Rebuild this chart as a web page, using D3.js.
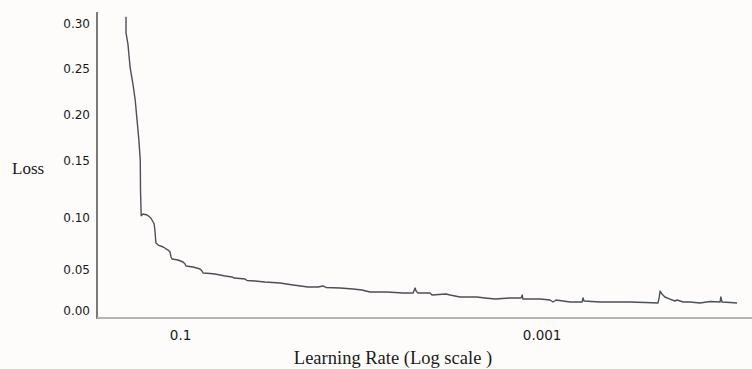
<!DOCTYPE html>
<html><head><meta charset="utf-8">
<script src="https://cdn.jsdelivr.net/npm/d3@7"></script>
<style>
html,body{margin:0;padding:0;background:#fdfcfb;}
svg{display:block;}
text{font-family:"Liberation Serif","Times New Roman",serif;fill:#1a1a1a;}
</style></head>
<body>
<svg id="c" width="752" height="369"></svg>
<script>
// Learning rate (x) and loss (y)
const learningRate = [0.199,0.199,0.194,0.189,0.182,0.177,0.173,0.169,0.166,0.1655,0.164,0.160,0.152,0.145,0.139,0.1375,0.136,0.132,0.124,0.1165,0.1136,0.1122,0.1107,0.1026,0.0963,0.0938,0.0927,0.0847,0.0775,0.0756,0.0746,0.0683,0.0640,0.0601,0.0564,0.0516,0.0503,0.0466,0.0437,0.0426,0.0385,0.0339,0.0280,0.0237,0.0196,0.01724,0.0162,0.0156,0.01303,0.01104,0.00985,0.00889,0.00783,0.00716,0.00647,0.00584,0.00514,0.00501,0.00495,0.00483,0.00414,0.00404,0.00338,0.00321,0.00283,0.00228,0.00206,0.00181,0.00150,0.00130,0.00128,0.00127,0.00102,0.000898,0.000865,0.000832,0.000697,0.000598,0.000590,0.000583,0.000475,0.000408,0.000324,0.000268,0.000227,0.000224,0.000221,0.000216,0.000208,0.000195,0.000183,0.000178,0.000165,0.000151,0.000133,0.000117,0.000103,0.000102,0.0001005,0.0000908,0.0000830];
const loss = [0.308,0.290,0.277,0.252,0.233,0.216,0.195,0.173,0.151,0.125,0.102,0.1035,0.1026,0.100,0.0942,0.0865,0.0760,0.0740,0.0721,0.0692,0.0673,0.0625,0.0606,0.0596,0.0577,0.0558,0.0539,0.0529,0.0510,0.0488,0.0463,0.0457,0.0451,0.0439,0.0427,0.0415,0.0402,0.0396,0.0390,0.0372,0.0366,0.0354,0.0341,0.0317,0.0293,0.0293,0.0305,0.0287,0.0280,0.0268,0.0256,0.0232,0.0232,0.0232,0.0226,0.0220,0.0220,0.0280,0.0244,0.0220,0.0220,0.0195,0.0207,0.0195,0.0171,0.0171,0.0159,0.0146,0.0159,0.0159,0.0195,0.0146,0.0146,0.0134,0.0110,0.0134,0.0110,0.0110,0.0159,0.0122,0.0110,0.0110,0.0110,0.0104,0.0098,0.0159,0.0244,0.0207,0.0171,0.0146,0.0122,0.0134,0.0110,0.0110,0.0098,0.0116,0.0110,0.0171,0.0110,0.0104,0.0098];
const xTicks = [0.1, 0.001];
const xTickLabels = ["0.1", "0.001"];
const yTicks = [0, 0.05, 0.10, 0.15, 0.20, 0.25, 0.30];
const yTickLabels = ["0.00","0.05","0.10","0.15","0.20","0.25","0.30"];

const svg = d3.select("#c");
const axisY0 = 318, axisX0 = 97;

const x = d3.scaleLog().domain([0.288, 6.86e-5]).range([97, 752]);
// the reference's y ticks are unevenly spaced; map them piecewise
const y = d3.scaleLinear()
  .domain([0, 0.05, 0.10, 0.15, 0.20, 0.25, 0.30])
  .range([311, 270, 218, 161, 115, 69, 24]);

// axes lines
svg.append("line").attr("x1", axisX0).attr("x2", axisX0).attr("y1", 12).attr("y2", axisY0 + 1)
  .attr("stroke", "#7a7a7a").attr("stroke-width", 2);
svg.append("line").attr("x1", axisX0).attr("x2", 752).attr("y1", axisY0).attr("y2", axisY0)
  .attr("stroke", "#b4b4b4").attr("stroke-width", 2);

// y axis ticks
const gy = svg.append("g").attr("transform", `translate(${axisX0},0)`)
  .call(d3.axisLeft(y).tickValues(yTicks).tickSize(0).tickPadding(7)
    .tickFormat((d, i) => yTickLabels[i]));
gy.select(".domain").remove();
gy.selectAll("text").style("font-size", "12px").style("font-family", "DejaVu Sans, sans-serif").attr("fill", "#1c2430");

// x axis ticks
const gx = svg.append("g").attr("transform", `translate(0,${axisY0})`)
  .call(d3.axisBottom(x).tickValues(xTicks).tickSize(0).tickPadding(12)
    .tickFormat((d, i) => xTickLabels[i]));
gx.select(".domain").remove();
gx.selectAll("text").style("font-size", "13.5px").style("font-family", "DejaVu Sans, sans-serif").attr("fill", "#1c2430");

// axis titles
svg.append("text").attr("x", 12).attr("y", 174).style("font-size", "17px").text("Loss");
svg.append("text").attr("x", 393).attr("y", 364).attr("text-anchor", "middle")
  .style("font-size", "18.5px").text("Learning Rate (Log scale )");

// line
const pts = learningRate.map((d, i) => [d, loss[i]]);
const line = d3.line().x(d => x(d[0])).y(d => y(d[1]));
svg.append("path").datum(pts).attr("d", line)
  .attr("fill", "none").attr("stroke", "#4b5058").attr("stroke-width", 1.4)
  .attr("stroke-linejoin", "round");
</script>
</body></html>
